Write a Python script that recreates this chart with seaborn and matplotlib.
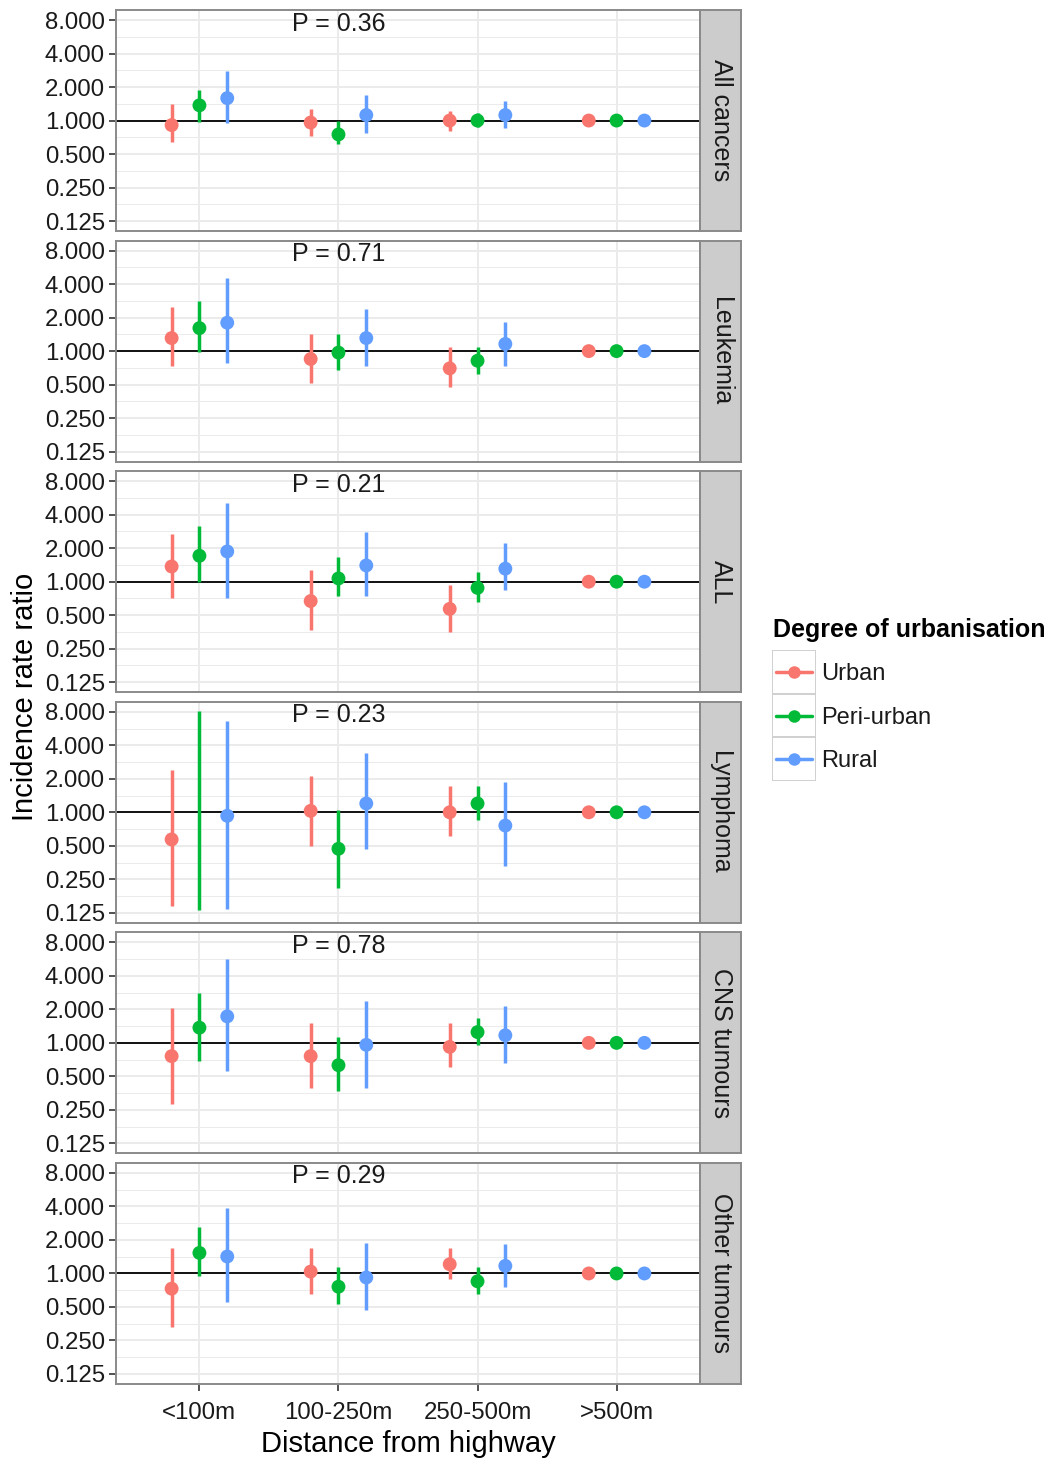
import numpy as np
import pandas as pd
import matplotlib
matplotlib.use("Agg")
import matplotlib.pyplot as plt
import seaborn as sns
from matplotlib.patches import Rectangle
from matplotlib.lines import Line2D
from matplotlib.ticker import NullFormatter

sns.set_style("white")
plt.rcParams['font.family'] = ['Liberation Sans', 'DejaVu Sans']

# ---------------- data ----------------
distances = ["<100m", "100-250m", "250-500m", ">500m"]
groups = ["Urban", "Peri-urban", "Rural"]
outcomes = ["All cancers", "Leukemia", "ALL", "Lymphoma", "CNS tumours", "Other tumours"]
p_values = ["0.36", "0.71", "0.21", "0.23", "0.78", "0.29"]
y_ticks = [0.125, 0.25, 0.5, 1, 2, 4, 8]
y_tick_labels = ["0.125", "0.250", "0.500", "1.000", "2.000", "4.000", "8.000"]

# rows = groups (Urban, Peri-urban, Rural); columns = distances
all_cancers_est = [[0.91, 0.96, 1.00, 1.0], [1.37, 0.75, 1.00, 1.0], [1.59, 1.12, 1.12, 1.0]]
all_cancers_lo = [[0.64, 0.72, 0.81, 1.0], [0.98, 0.62, 0.88, 1.0], [0.95, 0.78, 0.86, 1.0]]
all_cancers_hi = [[1.42, 1.27, 1.23, 1.0], [1.89, 1.00, 1.16, 1.0], [2.81, 1.68, 1.49, 1.0]]

leukemia_est = [[1.31, 0.85, 0.70, 1.0], [1.61, 0.97, 0.82, 1.0], [1.80, 1.31, 1.16, 1.0]]
leukemia_lo = [[0.74, 0.52, 0.48, 1.0], [0.98, 0.67, 0.62, 1.0], [0.78, 0.74, 0.74, 1.0]]
leukemia_hi = [[2.50, 1.43, 1.09, 1.0], [2.81, 1.43, 1.09, 1.0], [4.50, 2.40, 1.83, 1.0]]

all_leuk_est = [[1.37, 0.67, 0.57, 1.0], [1.71, 1.07, 0.88, 1.0], [1.87, 1.40, 1.31, 1.0]]
all_leuk_lo = [[0.72, 0.37, 0.35, 1.0], [1.00, 0.74, 0.66, 1.0], [0.72, 0.74, 0.84, 1.0]]
all_leuk_hi = [[2.68, 1.27, 0.93, 1.0], [3.14, 1.68, 1.22, 1.0], [5.06, 2.81, 2.22, 1.0]]

lymphoma_est = [[0.57, 1.03, 1.00, 1.0], [np.nan, 0.47, 1.20, 1.0], [0.93, 1.20, 0.76, 1.0]]
lymphoma_lo = [[0.144, 0.50, 0.61, 1.0], [0.133, 0.21, 0.86, 1.0], [0.136, 0.47, 0.33, 1.0]]
lymphoma_hi = [[2.38, 2.13, 1.74, 1.0], [8.2, 1.05, 1.74, 1.0], [6.6, 3.41, 1.89, 1.0]]

cns_est = [[0.76, 0.76, 0.92, 1.0], [1.37, 0.63, 1.25, 1.0], [1.73, 0.96, 1.17, 1.0]]
cns_lo = [[0.28, 0.39, 0.61, 1.0], [0.69, 0.37, 0.95, 1.0], [0.56, 0.39, 0.66, 1.0]]
cns_hi = [[2.05, 1.50, 1.50, 1.0], [2.80, 1.13, 1.68, 1.0], [5.70, 2.40, 2.14, 1.0]]

other_est = [[0.73, 1.04, 1.21, 1.0], [1.53, 0.76, 0.85, 1.0], [1.42, 0.92, 1.17, 1.0]]
other_lo = [[0.33, 0.66, 0.90, 1.0], [0.95, 0.53, 0.66, 1.0], [0.55, 0.47, 0.75, 1.0]]
other_hi = [[1.69, 1.69, 1.69, 1.0], [2.60, 1.14, 1.14, 1.0], [3.84, 1.89, 1.83, 1.0]]

panel_data = [
    (all_cancers_est, all_cancers_lo, all_cancers_hi),
    (leukemia_est, leukemia_lo, leukemia_hi),
    (all_leuk_est, all_leuk_lo, all_leuk_hi),
    (lymphoma_est, lymphoma_lo, lymphoma_hi),
    (cns_est, cns_lo, cns_hi),
    (other_est, other_lo, other_hi),
]

# ---------------- style ----------------
colors = ["#F8766D", "#00BA38", "#619CFF"]
dodge_step = 0.2
W, H = 1048, 1461
left_px, right_px, strip_px = 116, 700, 41
top_px, bottom_px, gap_px = 10, 1384, 9.5
ph = (bottom_px - top_px - 5 * gap_px) / 6
grid_col = "#EBEBEB"
border_col = "#8A8A8A"
text_col = "#1A1A1A"
tick_fs = 17.3

def build_frame(est, lo, hi):
    rows = []
    for g, grp in enumerate(groups):
        for d, dist in enumerate(distances):
            rows.append(dict(group=grp, dist=dist,
                             xpos=d + (g - 1) * dodge_step,
                             est=est[g][d], lo=lo[g][d], hi=hi[g][d],
                             color=colors[g]))
    return pd.DataFrame(rows)

fig = plt.figure(figsize=(W / 100, H / 100), dpi=100)

minor_ticks = [t * np.sqrt(2) for t in y_ticks[:-1]]

for i, outcome in enumerate(outcomes):
    df = build_frame(*panel_data[i])
    y0 = top_px + i * (ph + gap_px)
    ax = fig.add_axes([left_px / W, 1 - (y0 + ph) / H, (right_px - left_px) / W, ph / H])
    sax = fig.add_axes([right_px / W, 1 - (y0 + ph) / H, strip_px / W, ph / H])

    ax.set_yscale('log', base=2)
    ax.set_axisbelow(True)
    ax.axhline(1, color='black', lw=1.3, zorder=2)
    ax.vlines(df['xpos'], df['lo'], df['hi'], colors=df['color'], lw=2.5, zorder=3)
    sns.scatterplot(data=df.dropna(subset=['est']), x='xpos', y='est', hue='group',
                    hue_order=groups, palette=colors, s=100, edgecolor='none',
                    legend=False, ax=ax, zorder=4)

    ax.set_ylim(2 ** -3.3, 2 ** 3.3)
    ax.set_xlim(-0.6, 3.6)
    ax.set_yticks(y_ticks)
    ax.set_yticklabels(y_tick_labels)
    ax.set_yticks(minor_ticks, minor=True)
    ax.yaxis.set_minor_formatter(NullFormatter())
    ax.set_xticks(range(len(distances)))
    ax.set_xticks([], minor=True)
    ax.grid(which='major', color=grid_col, lw=1.4)
    ax.grid(which='minor', axis='y', color=grid_col, lw=0.7)
    ax.set_xlabel("")
    ax.set_ylabel("")
    ax.tick_params(axis='y', which='major', length=5, width=1.2, color='#333333',
                   labelsize=tick_fs, labelcolor=text_col, pad=3, left=True)
    ax.tick_params(axis='y', which='minor', length=0)
    if i == len(outcomes) - 1:
        ax.set_xticklabels(distances)
        ax.tick_params(axis='x', length=5, width=1.2, color='#333333',
                       labelsize=tick_fs, labelcolor=text_col, pad=8, bottom=True)
    else:
        ax.set_xticklabels([])
        ax.tick_params(axis='x', length=0)
    for sp in ax.spines.values():
        sp.set_color(border_col)
        sp.set_linewidth(1.4)

    ax.annotate(f"P = {p_values[i]}", xy=(1, 8), xytext=(0, -2.5),
                textcoords='offset points', ha='center', va='center',
                fontsize=18, color=text_col)

    sax.set_facecolor("#CCCCCC")
    sax.set_xticks([])
    sax.set_yticks([])
    for sp in sax.spines.values():
        sp.set_color(border_col)
        sp.set_linewidth(1.4)
    sax.text(0.5, 0.5, outcome, rotation=270, ha='center', va='center',
             fontsize=18, color=text_col, transform=sax.transAxes)

# axis titles
fig.text(25 / W, 1 - 697 / H, "Incidence rate ratio", rotation=90,
         ha='center', va='center', fontsize=21, color='black')
fig.text(408 / W, 1 - 1444 / H, "Distance from highway",
         ha='center', va='center', fontsize=21, color='black')

# legend
fig.text(773 / W, 1 - 630 / H, "Degree of urbanisation", ha='left', va='center',
         fontsize=18, fontweight='bold', color='black')
key_h = 43.7
lax = fig.add_axes([772 / W, 1 - (650 + 3 * key_h) / H, 44 / W, 3 * key_h / H])
lax.set_xlim(0, 1)
lax.set_ylim(0, 3)
lax.axis('off')
for j, grp in enumerate(groups):
    yb = 2 - j
    lax.add_patch(Rectangle((0, yb), 1, 1, facecolor='white', edgecolor='#D0D0D0', lw=1.4))
    lax.add_line(Line2D([0.1, 0.9], [yb + 0.5, yb + 0.5], color=colors[j], lw=2.5))
    lax.plot([0.5], [yb + 0.5], 'o', color=colors[j], ms=9, mec='none')
    fig.text(821 / W, 1 - (652 + key_h * (j + 0.5)) / H, grp, ha='left', va='center',
             fontsize=17, color=text_col)

fig.savefig("out.png", dpi=100)
